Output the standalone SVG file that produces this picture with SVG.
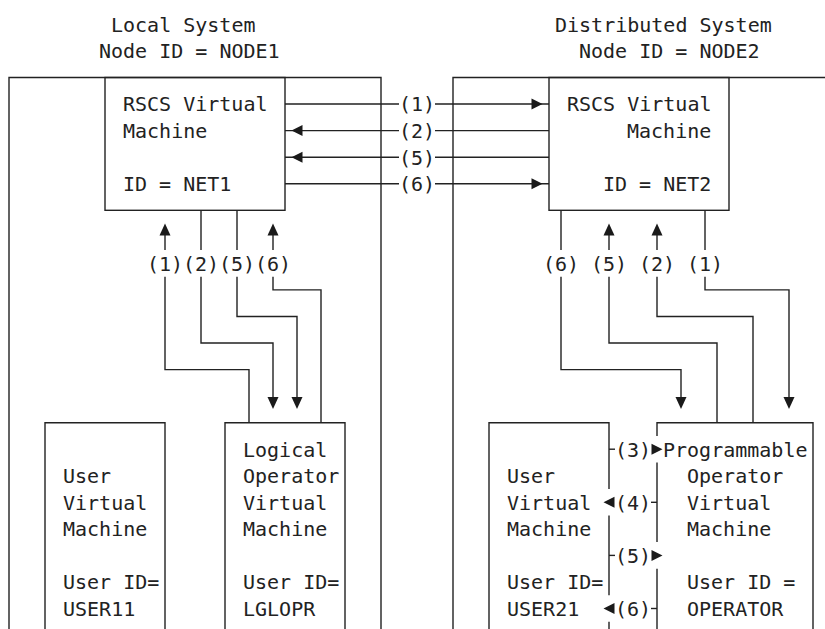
<svg xmlns="http://www.w3.org/2000/svg" xmlns:xlink="http://www.w3.org/1999/xlink" width="825" height="629" viewBox="0 0 825 629">
<style>
  text { font-family: "DejaVu Sans Mono", "Liberation Mono", monospace; font-size: 20px; fill: #222; }
  .ln { fill: none; stroke: #222; stroke-width: 1.4; }
  .ah { fill: #1a1a1a; stroke: none; }
</style>
<defs>
  <polygon id="ar-r" class="ah" points="0,0 -11,-5.5 -11,5.5"/>
  <polygon id="ar-l" class="ah" points="0,0 11,-5.5 11,5.5"/>
  <polygon id="ar-u" class="ah" points="0,0 -5.5,12 5.5,12"/>
  <polygon id="ar-d" class="ah" points="0,0 -5.5,-12 5.5,-12"/>
</defs>
<rect width="825" height="629" fill="#fff"/>

<g id="titles">
  <text x="111" y="31.7">Local System</text>
  <text x="99" y="58.3">Node ID = NODE1</text>
  <text x="555" y="31.7">Distributed System</text>
  <text x="579" y="58.3">Node ID = NODE2</text>
</g>

<g id="local-system">
  <path class="ln" d="M9,629 V77.5 H381 V629"/>
</g>
<g id="distributed-system">
  <path class="ln" d="M453,629 V77.5 H825"/>
</g>

<g id="rscs-net1">
  <rect class="ln" x="105" y="77.5" width="180" height="132.8"/>
  <text x="123" y="111.3">RSCS Virtual</text>
  <text x="123" y="137.9">Machine</text>
  <text x="123" y="191">ID = NET1</text>
</g>

<g id="rscs-net2">
  <rect class="ln" x="549" y="77.5" width="180" height="132.8"/>
  <text x="567" y="111.3">RSCS Virtual</text>
  <text x="627" y="137.9">Machine</text>
  <text x="603" y="191">ID = NET2</text>
</g>

<g id="user11">
  <path class="ln" d="M45,640 V422.7 H165 V640"/>
  <text x="63" y="483.1">User</text>
  <text x="63" y="509.6">Virtual</text>
  <text x="63" y="536.2">Machine</text>
  <text x="63" y="589.3">User ID=</text>
  <text x="63" y="615.8">USER11</text>
</g>

<g id="lglopr">
  <path class="ln" d="M225,640 V422.7 H345 V640"/>
  <text x="243" y="456.5">Logical</text>
  <text x="243" y="483.1">Operator</text>
  <text x="243" y="509.6">Virtual</text>
  <text x="243" y="536.2">Machine</text>
  <text x="243" y="589.3">User ID=</text>
  <text x="243" y="615.8">LGLOPR</text>
</g>

<g id="user21">
  <path class="ln" d="M489,640 V422.7 H609 V489 M609,515.6 V595.2 M609,621.8 V640"/>
  <text x="507" y="483.1">User</text>
  <text x="507" y="509.6">Virtual</text>
  <text x="507" y="536.2">Machine</text>
  <text x="507" y="589.3">User ID=</text>
  <text x="507" y="615.8">USER21</text>
</g>

<g id="operator">
  <path class="ln" d="M657,640 V568.7 M657,542.1 V462.5 M657,436 V422.7 H813 V640"/>
  <text x="663" y="456.5">Programmable</text>
  <text x="687" y="483.1">Operator</text>
  <text x="687" y="509.6">Virtual</text>
  <text x="687" y="536.2">Machine</text>
  <text x="687" y="589.3">User ID =</text>
  <text x="687" y="615.8">OPERATOR</text>
</g>

<g id="connectors">
  <!-- between RSCS machines -->
  <path class="ln" d="M285,104 H399 M435,104 H549"/>
  <use xlink:href="#ar-r" x="542.5" y="104"/>
  <text x="399" y="111.3">(1)</text>
  <path class="ln" d="M285,130.6 H399 M435,130.6 H549"/>
  <use xlink:href="#ar-l" x="291.5" y="130.6"/>
  <text x="399" y="137.9">(2)</text>
  <path class="ln" d="M285,157.2 H399 M435,157.2 H549"/>
  <use xlink:href="#ar-l" x="291.5" y="157.2"/>
  <text x="399" y="164.5">(5)</text>
  <path class="ln" d="M285,183.7 H399 M435,183.7 H549"/>
  <use xlink:href="#ar-r" x="542.5" y="183.7"/>
  <text x="399" y="191">(6)</text>

  <!-- local side -->
  <path class="ln" d="M249,422.7 V369.6 H165 V276.7 M165,250 V230"/>
  <use xlink:href="#ar-u" x="165" y="223.5"/>
  <text x="147" y="270.7">(1)</text>
  <path class="ln" d="M201,210.3 V250 M201,276.7 V343 H273 V400"/>
  <use xlink:href="#ar-d" x="273" y="409"/>
  <text x="183" y="270.7">(2)</text>
  <path class="ln" d="M237,210.3 V250 M237,276.7 V316.5 H297 V400"/>
  <use xlink:href="#ar-d" x="297" y="409"/>
  <text x="219" y="270.7">(5)</text>
  <path class="ln" d="M321,422.7 V289.9 H273 V276.7 M273,250 V230"/>
  <use xlink:href="#ar-u" x="273" y="223.5"/>
  <text x="255" y="270.7">(6)</text>

  <!-- distributed side -->
  <path class="ln" d="M561,210.3 V250 M561,276.7 V369.6 H681 V400"/>
  <use xlink:href="#ar-d" x="681" y="409"/>
  <text x="543" y="270.7">(6)</text>
  <path class="ln" d="M609,230 V250 M609,276.7 V343 H717 V422.7"/>
  <use xlink:href="#ar-u" x="609" y="223.5"/>
  <text x="591" y="270.7">(5)</text>
  <path class="ln" d="M657,230 V250 M657,276.7 V316.5 H753 V422.7"/>
  <use xlink:href="#ar-u" x="657" y="223.5"/>
  <text x="639" y="270.7">(2)</text>
  <path class="ln" d="M705,210.3 V250 M705,276.7 V289.9 H789 V400"/>
  <use xlink:href="#ar-d" x="789" y="409"/>
  <text x="687" y="270.7">(1)</text>

  <!-- between user and programmable operator -->
  <path class="ln" d="M609,449.2 H615"/>
  <text x="615" y="456.5">(3)</text>
  <use xlink:href="#ar-r" x="662.5" y="449.2"/>
  <path class="ln" d="M651,502.3 H657"/>
  <text x="615" y="509.6">(4)</text>
  <use xlink:href="#ar-l" x="603.5" y="502.3"/>
  <path class="ln" d="M609,555.4 H615"/>
  <text x="615" y="562.7">(5)</text>
  <use xlink:href="#ar-r" x="662.5" y="555.4"/>
  <path class="ln" d="M651,608.5 H657"/>
  <text x="615" y="615.8">(6)</text>
  <use xlink:href="#ar-l" x="603.5" y="608.5"/>
</g>
</svg>
